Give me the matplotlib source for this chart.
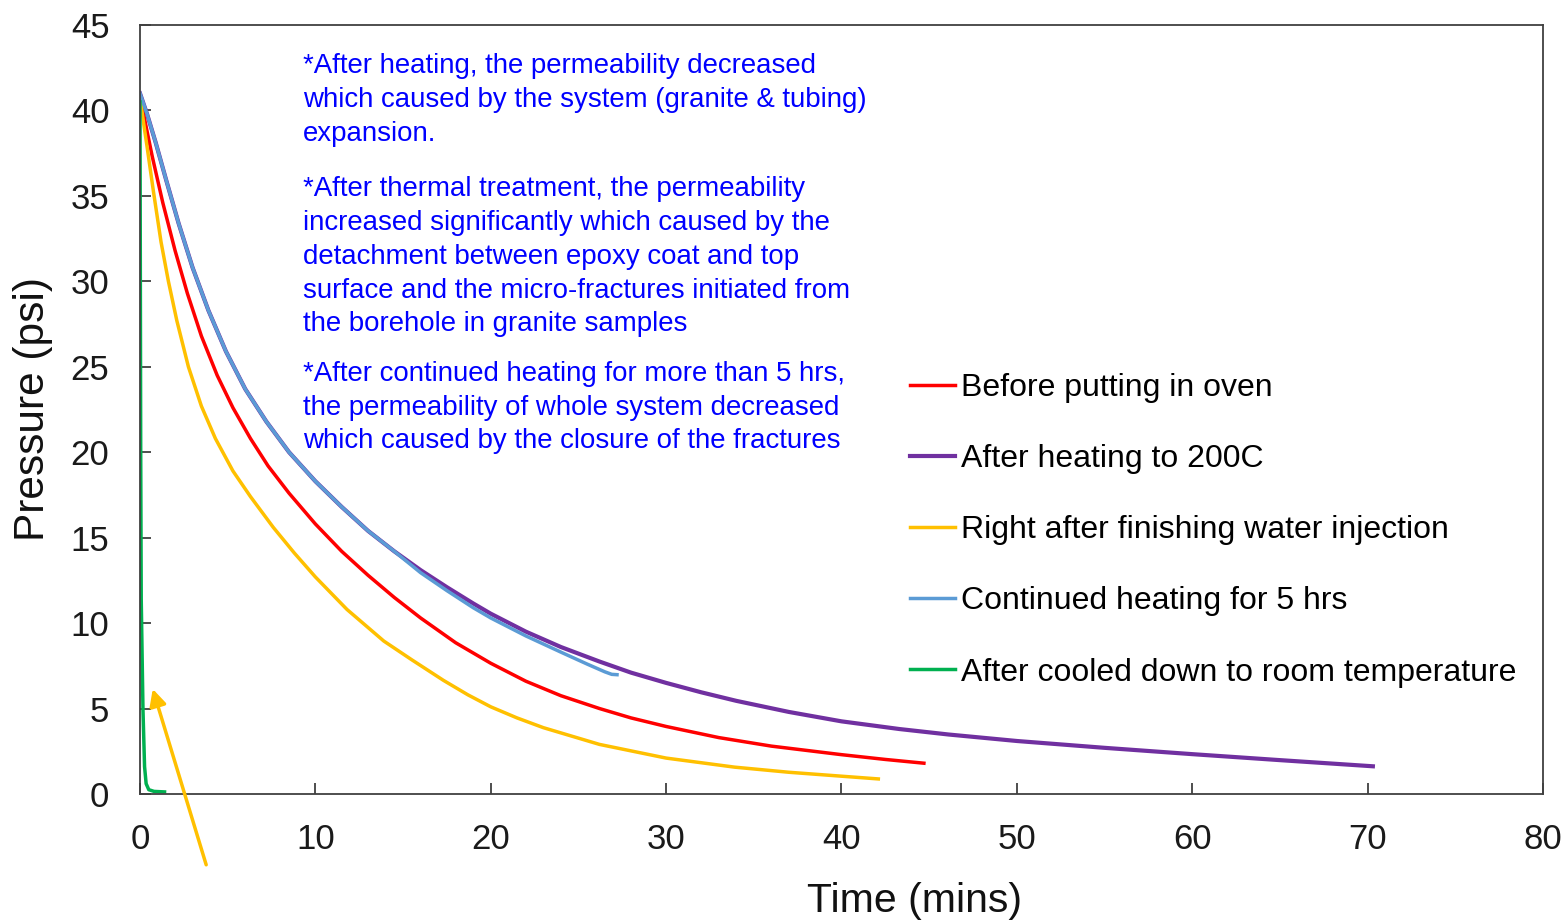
import matplotlib
matplotlib.use("Agg")
from matplotlib import pyplot as plt

plt.rcParams['font.family'] = ['Liberation Sans', 'DejaVu Sans']

# pressure decay curves (time in mins, pressure in psi)
t_before = [0, 0.3, 0.7, 1.3, 2.0, 2.7, 3.5, 4.4, 5.3, 6.3, 7.3, 8.5, 10.0, 11.5, 13.0, 14.5, 16.0, 18.0,
            20.0, 22.0, 24.0, 26.2, 28.0, 30.0, 33.0, 36.0, 40.0, 42.5, 44.7]
p_before = [40.8, 39.3, 37.3, 34.6, 31.8, 29.3, 26.8, 24.5, 22.6, 20.8, 19.2, 17.6, 15.8, 14.2, 12.8, 11.5, 10.3, 8.85,
            7.65, 6.6, 5.75, 5.0, 4.45, 3.95, 3.3, 2.8, 2.3, 2.02, 1.8]

t_heated = [0, 0.4, 0.9, 1.5, 2.2, 3.0, 3.9, 4.9, 6.0, 7.2, 8.5, 10.0, 11.5, 13.0, 14.5, 16.0, 17.5, 19.0,
            20.0, 22.0, 24.0, 26.2, 28.0, 30.0, 32.0, 34.0, 37.0, 40.0, 43.3, 46.1, 50.0, 55.0, 60.0,
            65.0, 70.3]
p_heated = [41.0, 39.8, 38.1, 35.9, 33.4, 30.8, 28.3, 25.9, 23.7, 21.8, 20.0, 18.3, 16.8, 15.4, 14.2, 13.1, 12.1, 11.15,
            10.55, 9.5, 8.6, 7.75, 7.1, 6.5, 5.95, 5.45, 4.8, 4.25, 3.8, 3.48, 3.1, 2.7, 2.33,
            1.98, 1.62]

t_water = [0, 0.2, 0.4, 0.76, 1.2, 1.62, 2.1, 2.76, 3.5, 4.3, 5.3, 6.3, 7.6, 8.8, 10.0, 11.8, 13.9, 15.5,
           17.3, 18.7, 20.0, 21.5, 23.0, 26.2, 30.0, 33.9, 37.0, 40.0, 42.1]
p_water = [40.8, 39.3, 37.9, 35.3, 32.3, 30.0, 27.7, 25.0, 22.7, 20.8, 18.9, 17.4, 15.6, 14.1, 12.7, 10.8, 8.95, 7.85,
           6.65, 5.8, 5.1, 4.45, 3.88, 2.9, 2.1, 1.57, 1.27, 1.04, 0.88]

t_5hrs = [0, 0.4, 0.9, 1.5, 2.2, 3.0, 3.9, 4.9, 6.0, 7.2, 8.5, 10.0, 11.5, 13.0, 14.5, 16.0, 17.5, 19.0,
          20.0, 22.0, 24.0, 25.5, 26.5, 26.9, 27.2]
p_5hrs = [41.0, 39.8, 38.1, 35.9, 33.4, 30.8, 28.3, 25.9, 23.7, 21.8, 20.0, 18.3, 16.8, 15.4, 14.2, 12.95, 11.9, 10.9,
          10.3, 9.25, 8.3, 7.6, 7.15, 7.0, 6.98]

t_cooled = [0, 0.02, 0.04, 0.07, 0.17, 0.26, 0.35, 0.5, 0.8, 1.4]
p_cooled = [40.5, 30.0, 20.0, 11.4, 4.9, 1.6, 0.6, 0.25, 0.15, 0.12]

labels = ["Before putting in oven", "After heating to 200C", "Right after finishing water injection",
          "Continued heating for 5 hrs", "After cooled down to room temperature"]
colors = ["#FF0000", "#7030A0", "#FFC000", "#5B9BD5", "#00B050"]

notes = [
    "*After heating, the permeability decreased\nwhich caused by the system (granite & tubing)\nexpansion.",
    "*After thermal treatment, the permeability\nincreased significantly which caused by the\n"
    "detachment between epoxy coat and top\nsurface and the micro-fractures initiated from\n"
    "the borehole in granite samples",
    "*After continued heating for more than 5 hrs,\nthe permeability of whole system decreased\n"
    "which caused by the closure of the fractures",
]
note_y = [43.35, 36.15, 25.35]

fig = plt.figure(figsize=(15.66, 9.23), dpi=100)
ax = fig.add_axes([0.0894, 0.1398, 0.8959, 0.8331])

l1, = ax.plot(t_before, p_before, color=colors[0], lw=2.5)
l2, = ax.plot(t_heated, p_heated, color=colors[1], lw=3)
l3, = ax.plot(t_water, p_water, color=colors[2], lw=2.5)
l4, = ax.plot(t_5hrs, p_5hrs, color=colors[3], lw=2.5)
l5, = ax.plot(t_cooled, p_cooled, color=colors[4], lw=2.5)

ax.set_xlim(0, 80)
ax.set_ylim(0, 45)
ax.set_xticks(range(0, 81, 10))
ax.set_yticks(range(0, 46, 5))

for s in ax.spines.values():
    s.set_color("#404040")
    s.set_linewidth(1.3)
ax.tick_params(direction="in", length=8, width=1.3, color="#404040", labelsize=25, labelcolor="#1a1a1a")
ax.tick_params(axis="x", pad=21)
ax.tick_params(axis="y", pad=22)

ax.set_xlabel("Time (mins)", fontsize=29.5, color="#111111")
ax.set_ylabel("Pressure (psi)", fontsize=30.5, color="#111111")
ax.xaxis.set_label_coords(0.552, -0.114)
ax.yaxis.set_label_coords(-0.062, 0.5)

for txt, yy in zip(notes, note_y):
    ax.text(9.3, yy, txt, color="#0000FF", fontsize=19.9, va="top", ha="left", linespacing=1.39)

ax.annotate("", xy=(0.68, 6.3), xytext=(3.82, -4.3), annotation_clip=False,
            arrowprops=dict(arrowstyle="-|>", color="#FFC000", lw=2.5, mutation_scale=25))

ax.legend([l1, l2, l3, l4, l5], labels, loc="center left", bbox_to_anchor=(0.549, 0.343),
          frameon=False, fontsize=23, handlelength=1.41, handletextpad=0.19, labelspacing=1.29,
          borderpad=0, borderaxespad=0)

fig.savefig("out.png", dpi=100)
